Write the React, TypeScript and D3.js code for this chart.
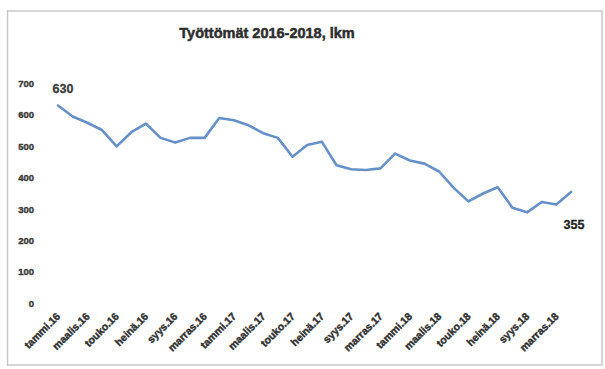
import React from "react";
import * as d3 from "d3";

const months = ["tammi", "helmi", "maalis", "huhti", "touko", "kesä", "heinä", "elo", "syys", "loka", "marras", "joulu"];
const years = ["16", "17", "18"];
const categories: string[] = years.flatMap((y) => months.map((m) => `${m}.${y}`));
const values = [630, 595, 575, 552, 500, 545, 572, 527, 512, 527, 527, 590, 583, 567, 542, 527, 467, 504, 515, 440, 427, 425, 430, 477, 455, 445, 420, 368, 325, 350, 370, 305, 290, 323, 315, 355];
const yTicks = [0, 100, 200, 300, 400, 500, 600, 700];
const title = "Työttömät 2016-2018, lkm";

export default function App() {
  const W = 605, H = 369;
  const x = d3.scalePoint<string>().domain(categories).range([58, 571]);
  const y = d3.scaleLinear().domain([0, 700]).range([303.5, 83.5]);
  const line = d3.line<number>().x((_, i) => x(categories[i])!).y((d) => y(d));
  const font = "'Liberation Sans', Arial, sans-serif";
  const labelCats = categories.filter((_, i) => i % 2 === 0);
  const first = values[0], last = values[values.length - 1];
  return (
    <svg width={W} height={H} style={{ position: "absolute", left: 0, top: 0, background: "#fff" }} fontFamily={font}>
      <rect x={0} y={0} width={W} height={H} fill="#fff" />
      <rect x={7.5} y={11} width={594.5} height={354} fill="none" stroke="#c8c8c8" strokeWidth={1.5} />
      <text x={267} y={38} textAnchor="middle" fontSize={14.5} fontWeight="bold" fill="#2e2e2e" stroke="#2e2e2e" strokeWidth={0.5}>{title}</text>
      {yTicks.map((t) => (
        <text key={t} x={34} y={y(t)} dy="0.35em" textAnchor="end" fontSize={9.5} fontWeight="bold" fill="#3a3a3a" stroke="#3a3a3a" strokeWidth={0.4}>{t}</text>
      ))}
      {labelCats.map((c) => (
        <text key={c} transform={`translate(${x(c)! + 3},${317}) rotate(-45)`} textAnchor="end" fontSize={10.5} fontWeight="bold" fill="#2f2f2f" stroke="#2f2f2f" strokeWidth={0.4}>{c}</text>
      ))}
      <path d={line(values)!} fill="none" stroke="#6690c8" strokeWidth={2.6} strokeLinejoin="round" strokeLinecap="round" />
      <text x={x(categories[0])! + 5} y={y(first) - 13} textAnchor="middle" fontSize={12.5} fontWeight="bold" fill="#3a3a3a" stroke="#3a3a3a" strokeWidth={0.3}>{first}</text>
      <text x={x(categories[categories.length - 1])! + 3} y={y(last) + 37} textAnchor="middle" fontSize={12.5} fontWeight="bold" fill="#1e1e1e" stroke="#1e1e1e" strokeWidth={0.3}>{last}</text>
    </svg>
  );
}
